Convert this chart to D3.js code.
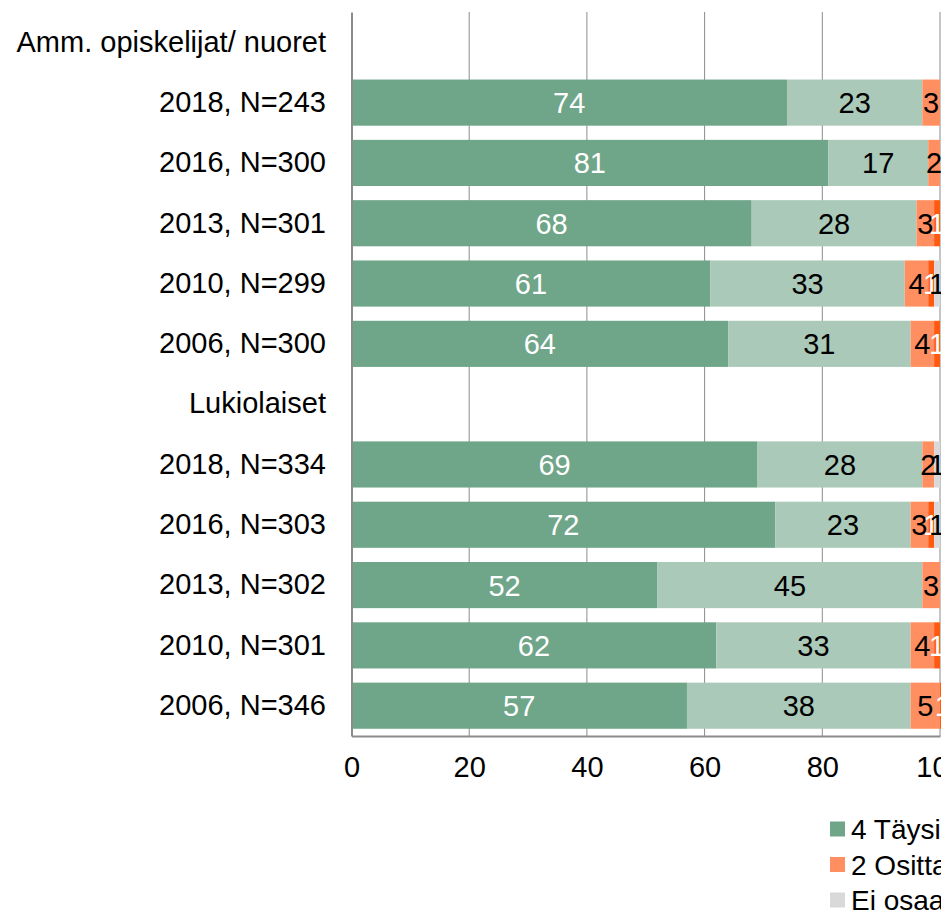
<!DOCTYPE html>
<html><head><meta charset="utf-8">
<script src="https://cdn.jsdelivr.net/npm/d3@7"></script>
<style>body{margin:0;background:#fff;overflow:hidden}text{font-family:"Liberation Sans",Arial,sans-serif}</style>
</head><body><svg id="c" width="941" height="910"></svg>
<script>
const categories = ["Amm. opiskelijat/ nuoret","2018, N=243","2016, N=300","2013, N=301","2010, N=299","2006, N=300",
  "Lukiolaiset","2018, N=334","2016, N=303","2013, N=302","2010, N=301","2006, N=346"];
const seriesNames = ["4 Täysin samaa mieltä","3 Jokseenkin samaa mieltä","2 Osittain eri mieltä","1 Täysin eri mieltä","Ei osaa sanoa"];
const s4 = [null,74,81,68,61,64,null,69,72,52,62,57];
const s3 = [null,23,17,28,33,31,null,28,23,45,33,38];
const s2 = [null,3,2,3,4,4,null,2,3,3,4,5];
const s1 = [null,0,0,1,1,1,null,0,1,0,1,1];
const s0 = [null,0,0,0,1,0,null,1,1,0,0,0];
const xTicks = [0,20,40,60,80,100];
const colors = ["#6fa589","#aac9b8","#ff8f60","#ff5a0f","#d9d9d9"];
const labelColors = ["#fff","#000","#000","#fff","#000"];
const FS = 29;

const svg = d3.select("#c");
const x = d3.scaleLinear().domain([0,100]).range([351.5,940]);
const y = d3.scaleBand().domain(categories).range([12,736]).paddingInner(0.235).paddingOuter(0.12);

// gridlines
svg.append("g").selectAll("line").data(xTicks.slice(1)).join("line")
  .attr("x1",d=>x(d)).attr("x2",d=>x(d)).attr("y1",12).attr("y2",736)
  .attr("stroke","#8c8c8c").attr("stroke-width",1);

const all = [s4,s3,s2,s1,s0];
categories.forEach((c,i)=>{
  if (s4[i]===null) return;
  let acc = 0;
  all.forEach((s,k)=>{
    const v = s[i];
    if (!v) return;
    const x0 = x(acc), x1 = x(acc+v);
    svg.append("rect").attr("x",x0).attr("y",y(c)).attr("width",x1-x0).attr("height",y.bandwidth()).attr("fill",colors[k]);
    acc += v;
  });
  acc = 0;
  all.forEach((s,k)=>{
    const v = s[i];
    if (!v) return;
    const x0 = x(acc), x1 = x(acc+v);
    svg.append("text").attr("x",(x0+x1)/2).attr("y",y(c)+y.bandwidth()/2).attr("dy","0.36em")
      .attr("text-anchor","middle").attr("font-size",FS).attr("fill",labelColors[k]).text(v);
    acc += v;
  });
});

// axes
const xa = svg.append("g").attr("transform","translate(0,736)")
  .call(d3.axisBottom(x).tickValues(xTicks).tickSize(0).tickPadding(20));
xa.select(".domain").attr("stroke","#8c8c8c").attr("stroke-width",2);
xa.selectAll("text").attr("font-size",FS).attr("fill","#000").style("font-family","'Liberation Sans',Arial,sans-serif");

const ya = svg.append("g").attr("transform","translate(351.5,0)")
  .call(d3.axisLeft(y).tickSize(0).tickPadding(25.5));
ya.select(".domain").attr("stroke","#8c8c8c").attr("stroke-width",2);
ya.selectAll("text").attr("font-size",FS).attr("fill","#000").style("font-family","'Liberation Sans',Arial,sans-serif");

// legend
const legendItems = [[0,0],[2,1],[4,2],[1,0],[3,1]];
legendItems.forEach(([k,row],j)=>{
  const lx = j<3 ? 830 : 1200;
  const ly = 829 + row*35.5;
  svg.append("rect").attr("x",lx).attr("y",ly-7.5).attr("width",15).attr("height",15).attr("fill",colors[k]);
  svg.append("text").attr("x",lx+21).attr("y",ly).attr("dy","0.36em").attr("font-size",28).attr("fill","#000").text(seriesNames[k]);
});
</script></body></html>
